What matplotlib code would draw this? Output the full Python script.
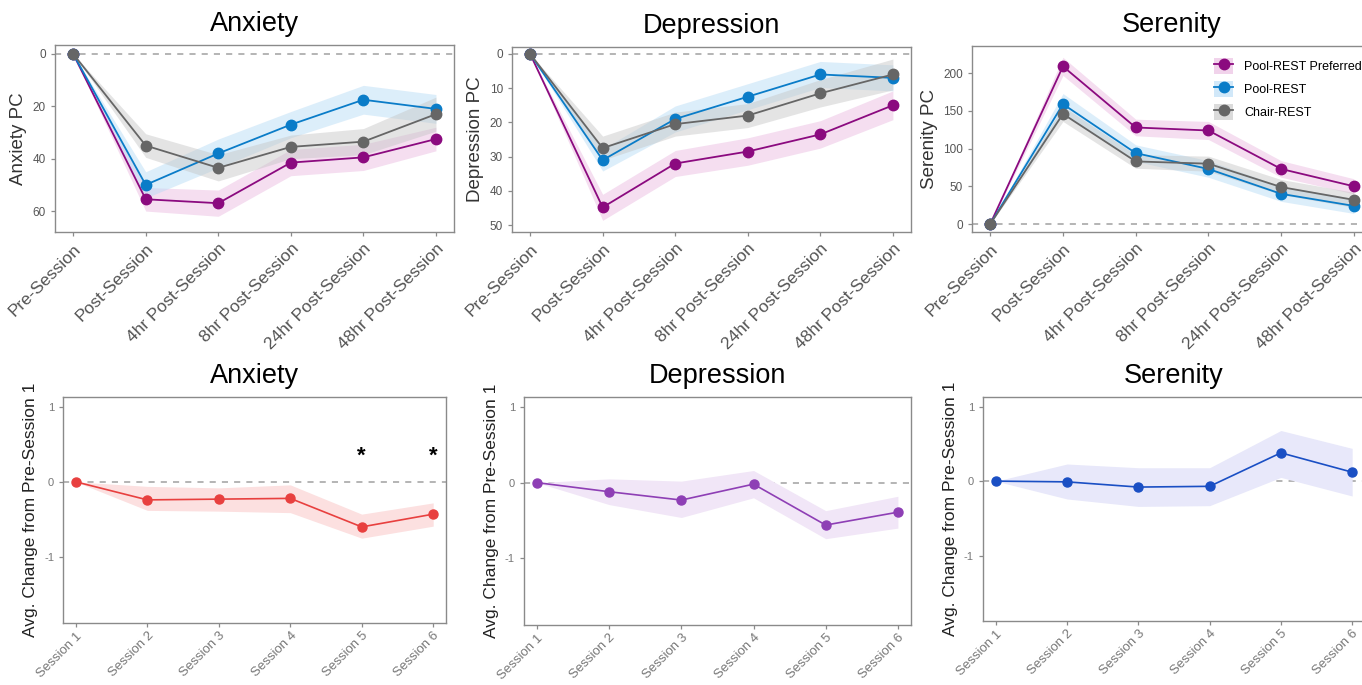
import matplotlib
matplotlib.use("Agg")
import matplotlib.pyplot as plt
from matplotlib.patches import Patch
from matplotlib.lines import Line2D
import numpy as np

plt.rcParams['font.family'] = ['Liberation Sans', 'DejaVu Sans']

# ---------------- data ----------------
timepoints = ["Pre-Session", "Post-Session", "4hr Post-Session",
              "8hr Post-Session", "24hr Post-Session", "48hr Post-Session"]
groups = ["Pool-REST Preferred", "Pool-REST", "Chair-REST"]

anx_pref = [0, 55.5, 57, 41.5, 39.5, 32.5]
anx_pool = [0, 50, 38, 27, 17.5, 21]
anx_chair = [0, 35, 43.5, 35.5, 33.5, 23]
anx_err_pref = [0, 4.5, 5, 5, 5, 4.5]
anx_err_pool = [0, 5, 5.5, 5, 5.5, 5.5]
anx_err_chair = [0, 4.5, 5, 4.5, 5, 6.5]

dep_pref = [0, 44.8, 32, 28.5, 23.5, 15]
dep_pool = [0, 31, 19, 12.5, 6, 7]
dep_chair = [0, 27.5, 20.5, 18, 11.5, 6]
dep_err_pref = [0, 3.8, 3.8, 4, 4, 4.2]
dep_err_pool = [0, 3.2, 3.8, 3.8, 3.8, 3.8]
dep_err_chair = [0, 3.5, 3.5, 3.5, 4, 4.5]

ser_pref = [0, 209, 128, 124, 73, 50]
ser_pool = [0, 159, 94, 73, 40, 24]
ser_chair = [0, 146, 83, 80, 49, 32]
ser_err_pref = [0, 12, 11, 12, 11, 10]
ser_err_pool = [0, 14, 11, 11, 10, 10]
ser_err_chair = [0, 10, 9, 10, 10, 10]

sessions = ["Session 1", "Session 2", "Session 3", "Session 4", "Session 5", "Session 6"]
anx_change = [0, -0.24, -0.23, -0.22, -0.60, -0.43]
anx_lo = [0, -0.38, -0.39, -0.41, -0.75, -0.59]
anx_hi = [0, -0.06, -0.08, -0.04, -0.43, -0.28]
dep_change = [0, -0.12, -0.23, -0.02, -0.56, -0.39]
dep_lo = [0, -0.29, -0.46, -0.20, -0.74, -0.60]
dep_hi = [0, 0.05, 0.02, 0.16, -0.37, -0.18]
ser_change = [0, -0.01, -0.08, -0.07, 0.38, 0.12]
ser_lo = [0, -0.24, -0.34, -0.33, 0.05, -0.20]
ser_hi = [0, 0.23, 0.18, 0.18, 0.68, 0.44]
anx_signif = [4, 5]  # session indices with *

# ---------------- styles ----------------
line_cols = ["#8B0A7F", "#0A7CC8", "#666666"]
fill_cols = ["#E9B6DF", "#B3DAF5", "#C4C4C4"]
fill_alpha = 0.45
spine_col = "#8a8a8a"
tick_col = "#555555"

fig = plt.figure(figsize=(13.62, 6.85), dpi=100)

def style_axes(ax, tick_fs):
    for s in ax.spines.values():
        s.set_color(spine_col)
        s.set_linewidth(1.0)
    ax.tick_params(colors=spine_col, labelcolor=tick_col, labelsize=tick_fs,
                   length=3, width=0.9)

def top_panel(rect, title, ylabel, series, errs, ylim, yticks, legend=False):
    ax = fig.add_axes(rect)
    x = np.arange(len(timepoints))
    ax.axhline(0, color="#a0a0a0", lw=1.1, ls=(0, (4, 4)), zorder=1)
    handles = []
    for vals, err, lc, fc in zip(series, errs, line_cols, fill_cols):
        v = np.array(vals, float)
        e = np.array(err, float)
        ax.fill_between(x, v - e, v + e, color=fc, alpha=fill_alpha, lw=0, zorder=2)
    for vals, lc, fc, g in zip(series, line_cols, fill_cols, groups):
        ax.plot(x, vals, color=lc, lw=1.3, marker="o", ms=7.5, zorder=3)
        handles.append((Patch(facecolor=fc, alpha=0.6, edgecolor="none"),
                        Line2D([], [], color=lc, lw=1.3, marker="o", ms=7.5)))
    ax.set_xlim(-0.25, 5.25)
    ax.set_ylim(*ylim)
    ax.set_yticks(yticks)
    ax.set_xticks(x)
    ax.set_xticklabels(timepoints, rotation=45, ha="right", rotation_mode="anchor",
                       fontsize=12.5, color=tick_col)
    ax.set_ylabel(ylabel, fontsize=13.5, color="#333333", labelpad=4)
    ax.set_title(title, fontsize=19.5, pad=10)
    style_axes(ax, 8.5)
    ax.tick_params(axis="x", labelsize=12.5)
    if legend:
        ax.legend(handles, groups, loc="upper right", frameon=False, fontsize=9,
                  bbox_to_anchor=(1.0, 0.99), handlelength=1.5, handleheight=1.6,
                  labelspacing=0.55, borderpad=0.3, handletextpad=0.9)
    return ax

top_panel([0.0404, 0.6613, 0.293, 0.273], "Anxiety", "Anxiety PC",
          [anx_pref, anx_pool, anx_chair], [anx_err_pref, anx_err_pool, anx_err_chair],
          (68, -3.4), [0, 20, 40, 60])
top_panel([0.3759, 0.6613, 0.293, 0.270], "Depression", "Depression PC",
          [dep_pref, dep_pool, dep_chair], [dep_err_pref, dep_err_pool, dep_err_chair],
          (52, -2), [0, 10, 20, 30, 40, 50])
top_panel([0.7137, 0.6613, 0.2937, 0.2715], "Serenity", "Serenity PC",
          [ser_pref, ser_pool, ser_chair], [ser_err_pref, ser_err_pool, ser_err_chair],
          (-10.6, 236), [0, 50, 100, 150, 200], legend=True)

def bottom_panel(rect, title, vals, lo, hi, lc, fc, stars=None):
    ax = fig.add_axes(rect)
    x = np.arange(len(sessions))
    ax.axhline(0, color="#a0a0a0", lw=1.1, ls=(0, (4, 4)), zorder=1)
    ax.fill_between(x, lo, hi, color=fc, lw=0, zorder=2)
    ax.plot(x, vals, color=lc, lw=1.2, marker="o", ms=6.5, zorder=3)
    if stars:
        for i in stars:
            ax.text(x[i], 0.34, "*", ha="center", va="center", fontsize=16,
                    fontweight="bold", color="black")
    ax.set_xlim(-0.18, 5.18)
    ax.set_ylim(-1.88, 1.13)
    ax.set_yticks([1, 0, -1])
    ax.set_yticklabels(["1", "0", "-1"])
    ax.set_xticks(x)
    ax.set_xticklabels(sessions, rotation=45, ha="right", rotation_mode="anchor",
                       fontsize=9.5, color="#777777")
    ax.set_ylabel("Avg. Change from Pre-Session 1", fontsize=12.5, color="#222222",
                  labelpad=4)
    ax.set_title(title, fontsize=19.5, pad=10)
    style_axes(ax, 8)
    ax.tick_params(axis="x", labelsize=9.5, labelcolor="#777777", pad=2)
    ax.tick_params(axis="y", labelcolor="#777777")
    return ax

bottom_panel([0.0463, 0.0905, 0.2812, 0.3299], "Anxiety", anx_change, anx_lo, anx_hi,
             "#E8403F", "#FCE0E0", stars=anx_signif)
bottom_panel([0.3847, 0.0875, 0.2841, 0.3329], "Depression", dep_change, dep_lo, dep_hi,
             "#8E3FB5", "#F1E6F7")
bottom_panel([0.7217, 0.0934, 0.2805, 0.327], "Serenity", ser_change, ser_lo, ser_hi,
             "#1A4FC4", "#E8E8FA")

fig.savefig("out.png", dpi=100)
